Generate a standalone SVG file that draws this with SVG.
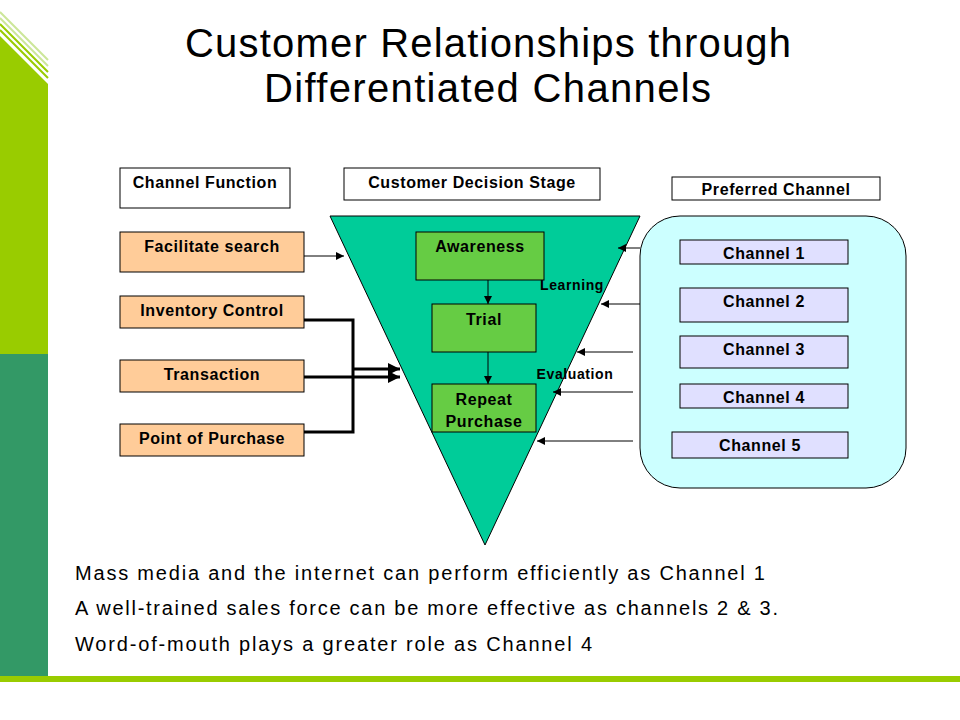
<svg xmlns="http://www.w3.org/2000/svg" width="960" height="720" viewBox="0 0 960 720">
<defs>
<marker id="a" viewBox="0 0 10 10" refX="10" refY="5" markerWidth="8" markerHeight="8" markerUnits="userSpaceOnUse" orient="auto"><path d="M0,0 L10,5 L0,10 z" fill="#000"/></marker>
<marker id="b" viewBox="0 0 10 10" refX="10" refY="5" markerWidth="12" markerHeight="12" markerUnits="userSpaceOnUse" orient="auto"><path d="M0,0 L10,5 L0,10 z" fill="#000"/></marker>
</defs>
<style>
.t{font-family:"Liberation Sans",Arial,sans-serif;font-weight:bold;font-size:16px;letter-spacing:0.6px;text-anchor:middle}
.h{fill:#fff;stroke:#000;stroke-width:1}
.f{fill:#ffcc99;stroke:#000;stroke-width:1}
.c{fill:#e0e0ff;stroke:#000;stroke-width:1}
.s{fill:#66cc44;stroke:#000;stroke-width:1}
.l{stroke:#000;stroke-width:1;fill:none}
.k{stroke:#000;stroke-width:3;fill:none}
.b{font-family:"Liberation Sans",Arial,sans-serif;font-size:20px}
.ti{font-family:"Liberation Sans",Arial,sans-serif;font-size:40px}
</style>
<rect width="960" height="720" fill="#fff"/>
<rect x="0" y="0" width="48" height="354" fill="#99cc00"/>
<rect x="0" y="354" width="48" height="322" fill="#339966"/>
<polygon points="0,0 48,0 48,84 0,36" fill="#fff"/>
<g stroke="#99cc00" stroke-width="2"><line x1="0" y1="24" x2="48" y2="72"/><line x1="0" y1="30" x2="48" y2="78"/></g>
<g stroke="#cce699" stroke-width="2"><line x1="0" y1="18" x2="48" y2="66"/><line x1="0" y1="12" x2="48" y2="60"/></g>
<rect x="0" y="676" width="960" height="6" fill="#99cc00"/>
<text class="ti" x="185" y="57" textLength="606" lengthAdjust="spacing">Customer Relationships through</text>
<text class="ti" x="264" y="102" textLength="447" lengthAdjust="spacing">Differentiated Channels</text>
<polygon points="330,216 640,216 485,545" fill="#00cc99" stroke="#000" stroke-width="1"/>
<rect x="640" y="216" width="266" height="272" rx="40" fill="#ccffff" stroke="#000"/>
<g id="hdr1"><rect class="h" x="120" y="168" width="170" height="40"/><text class="t" x="205" y="188">Channel Function</text></g>
<g id="hdr2"><rect class="h" x="344" y="168" width="256" height="32"/><text class="t" x="472" y="188">Customer Decision Stage</text></g>
<g id="hdr3"><rect class="h" x="672" y="177" width="208" height="23"/><text class="t" x="776" y="195">Preferred Channel</text></g>
<g id="f1"><rect class="f" x="120" y="232" width="184" height="40"/><text class="t" x="212" y="252">Facilitate search</text></g>
<g id="f2"><rect class="f" x="120" y="296" width="184" height="32"/><text class="t" x="212" y="316">Inventory Control</text></g>
<g id="f3"><rect class="f" x="120" y="360" width="184" height="32"/><text class="t" x="212" y="380">Transaction</text></g>
<g id="f4"><rect class="f" x="120" y="424" width="184" height="32"/><text class="t" x="212" y="444">Point of Purchase</text></g>
<g id="awareness"><rect class="s" x="416" y="232" width="128" height="48"/><text class="t" x="480" y="252">Awareness</text></g>
<g id="trial"><rect class="s" x="432" y="304" width="104" height="48"/><text class="t" x="484" y="325">Trial</text></g>
<g id="repeat"><rect class="s" x="432" y="384" width="104" height="48"/><text class="t" x="484" y="405">Repeat</text><text class="t" x="484" y="427">Purchase</text></g>
<g id="ch1"><rect class="c" x="680" y="240" width="168" height="24"/><text class="t" x="764" y="259">Channel 1</text></g>
<g id="ch2"><rect class="c" x="680" y="288" width="168" height="34"/><text class="t" x="764" y="307">Channel 2</text></g>
<g id="ch3"><rect class="c" x="680" y="336" width="168" height="32"/><text class="t" x="764" y="355">Channel 3</text></g>
<g id="ch4"><rect class="c" x="680" y="384" width="168" height="24"/><text class="t" x="764" y="403">Channel 4</text></g>
<g id="ch5"><rect class="c" x="672" y="432" width="176" height="26"/><text class="t" x="760" y="451">Channel 5</text></g>
<text class="t" x="572" y="290" style="font-size:14px">Learning</text>
<text class="t" x="575" y="379" style="font-size:14px">Evaluation</text>
<g id="connectors">
<line class="l" x1="304" y1="256" x2="344" y2="256" marker-end="url(#a)"/>
<polyline class="k" points="304,320 353,320 353,432 304,432"/>
<line class="k" x1="353" y1="369" x2="400" y2="369" marker-end="url(#b)"/>
<line class="k" x1="304" y1="377" x2="400" y2="377" marker-end="url(#b)"/>
<line class="l" x1="488" y1="280" x2="488" y2="304" marker-end="url(#a)"/>
<line class="l" x1="488" y1="352" x2="488" y2="384" marker-end="url(#a)"/>
<line class="l" x1="640" y1="248" x2="618" y2="248" marker-end="url(#a)"/>
<line class="l" x1="640" y1="304" x2="601" y2="304" marker-end="url(#a)"/>
<line class="l" x1="633" y1="352" x2="577" y2="352" marker-end="url(#a)"/>
<line class="l" x1="633" y1="392" x2="553" y2="392" marker-end="url(#a)"/>
<line class="l" x1="633" y1="441" x2="537" y2="441" marker-end="url(#a)"/>
</g>
<text class="b" x="75" y="580" textLength="690" lengthAdjust="spacing">Mass media and the internet can perform efficiently as Channel 1</text>
<text class="b" x="75" y="615" textLength="703" lengthAdjust="spacing">A well-trained sales force can be more effective as channels 2 &amp; 3.</text>
<text class="b" x="75" y="651" textLength="517" lengthAdjust="spacing">Word-of-mouth plays a greater role as Channel 4</text>
</svg>
